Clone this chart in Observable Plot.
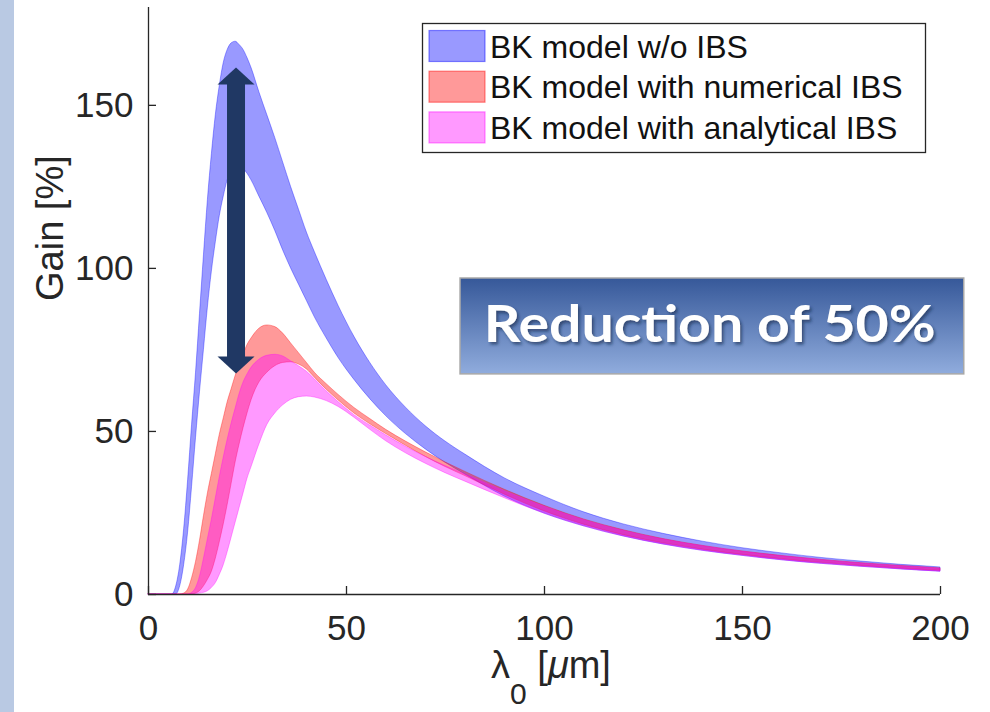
<!DOCTYPE html>
<html><head><meta charset="utf-8">
<script src="https://cdn.jsdelivr.net/npm/d3@7"></script>
<script src="https://cdn.jsdelivr.net/npm/@observablehq/plot@0.6"></script>
<style>
html,body{margin:0;padding:0;background:#fff;}
#wrap{position:relative;width:990px;height:712px;overflow:hidden;background:#fff;}
#strip{position:absolute;left:0;top:0;width:14px;height:712px;background:#b9c9e3;}
#chart{position:absolute;left:0;top:0;}
</style></head><body>
<div id="wrap"><div id="strip"></div><div id="chart"></div></div>
<script>
// wavelength grid (µm)
const lambda = [0,6,7,8,9,10,11,12,13,14,15,16,17,18,19,20,21,22,23,24,25,26,28,30,32,34,36,38,40,42,45,48,52,56,60,65,70,75,80,90,100,110,120,130,140,150,160,170,180,190,200];
// BK model w/o IBS
const blueUpper = [0,0,2.5,9,20,35,52,68,86,104,121,135,147,156,163,167,169,169.5,168.5,167,164.5,161.5,154,147,140,132.5,125,118,111,105,
  96.5,88.5,79,71,64.2,57.3,51.6,46.9,42.9,35.6,30,25.2,21.5,18.6,16.2,14.2,12.6,11.2,10.1,9.1,8.3];
const blueLower = [0,0,0,2.5,9,19,33,48,62,75,88,99,108,116,122,127,130,131.5,131.5,130.5,129,127,122,117,111.5,105.5,100,95,90,85,
  78.5,72.5,65.8,59.9,54.7,49.2,44.5,40.4,36.8,30,24.8,20.9,17.8,15.35,13.4,11.85,10.5,9.4,8.5,7.7,7.0];
// BK model with numerical IBS
const redUpper = [0,0,0,0,0.3,1.5,5,10,16.5,24,31,37,43,49,54,59,63,67,70.5,73.5,76.5,78.5,81.5,82.5,82,80,77,74,71,68,
  64.5,61.2,57.2,53.8,50.5,46.9,43.6,40.5,37.6,32.1,27.2,23,19.7,17,14.9,13.2,11.8,10.6,9.6,8.75,8];
const redLower = [0,0,0,0,0,0,0,0.3,1,2.5,4.5,7,11,16,21.5,27.5,34,40.5,46,51,55.5,59.5,65,68,70,71,71.2,70.5,69,66.5,
  62.8,59.5,55.5,52.2,49.2,45.6,42.2,39.1,36.3,30.6,25.5,21.4,18.2,15.7,13.75,12.15,10.8,9.7,8.75,7.95,7.25];
// BK model with analytical IBS
const magUpper = [0,0,0,0,0,0,0.5,2,5.5,11,17,23,29.5,36,42,47.5,52.5,57,61.5,65,67.5,69.5,72,73.2,73.5,73,71.5,70,68.3,66,
  62.3,59,55,51.8,48.8,45.3,42.2,39.4,36.8,31.6,26.9,22.8,19.5,16.85,14.8,13.1,11.7,10.5,9.5,8.65,7.9];
const magLower = [0,0,0,0,0,0,0,0,0.3,0.5,1,2,3.5,6,9,13,17.5,22,26.5,31,35.5,39,46,52,55.5,58,59.7,60.5,60.7,60.4,
  59.3,57.5,54.2,50.5,47,43.3,40.1,37.2,34.6,29.5,24.8,20.9,17.8,15.35,13.4,11.85,10.5,9.4,8.5,7.7,7.0];

const seriesNames = ["BK model w/o IBS","BK model with numerical IBS","BK model with analytical IBS"];
const seriesColors = ["#0000ff","#ff0000","#ff00ff"];
const xTicks = [0,50,100,150,200];
const yTicks = [0,50,100,150];
// annotations (data coordinates)
const arrowNote = [{x:22.1, top:161.6, bottom:67.8}];
const boxNote = [{x1:78.8, x2:206, y1:67.5, y2:96.9, cx:141.7, cy:82.3, label:"Reduction of 50%"}];

const W = 990, H = 712, mL = 148, mR = 50, mT = 7, mB = 118;
const innerW = W - mL - mR, innerH = H - mT - mB;
const ink = "#262626", navy = "#203864";
const font = "'Liberation Sans', Arial, Helvetica, sans-serif";

const bandData = [[blueLower, blueUpper],[redLower, redUpper],[magLower, magUpper]];
const bandMarks = bandData.map(([lo, hi], k) =>
  Plot.areaY(lambda.map((x,i)=>({x, lo:lo[i], hi:hi[i]})), {
    x:"x", y1:"lo", y2:"hi", curve:"monotone-x",
    fill:seriesColors[k], fillOpacity:0.4,
    stroke:seriesColors[k], strokeOpacity:0.35, strokeWidth:1
  }));

const headUp = {draw(c){c.moveTo(0,0);c.lineTo(18.5,17);c.lineTo(-18.5,17);c.closePath();}};
const headDown = {draw(c){c.moveTo(0,0);c.lineTo(18.5,-17);c.lineTo(-18.5,-17);c.closePath();}};

const svg = Plot.plot({
  width: W, height: H,
  marginLeft: mL, marginRight: mR, marginTop: mT, marginBottom: mB,
  style: {fontFamily: font, background: "transparent", overflow: "visible"},
  x: {domain: [0, 200]},
  y: {domain: [0, 180]},
  marks: [
    ...bandMarks,
    Plot.ruleX(arrowNote, {x:"x", y1:"top", y2:"bottom", stroke:navy, strokeWidth:18, insetTop:16, insetBottom:15}),
    Plot.dot(arrowNote, {x:"x", y:"top", symbol:headUp, fill:navy, stroke:"none"}),
    Plot.dot(arrowNote, {x:"x", y:"bottom", symbol:headDown, fill:navy, stroke:"none"}),
    Plot.rect(boxNote, {x1:"x1", x2:"x2", y1:"y1", y2:"y2", fill:"#123457", stroke:"#a8a8a8", strokeWidth:1.5}),
    Plot.text(boxNote, {x:"cx", y:"cy", text:"label", fontFamily:"Lato, 'Open Sans', sans-serif", fontWeight:"bold", fontSize:51, fill:"#ffffff", lineAnchor:"middle"}),
    Plot.ruleX([0], {stroke:ink, strokeWidth:1.3}),
    Plot.ruleY([0], {stroke:ink, strokeWidth:1.3}),
    Plot.tickX(xTicks, {x:d=>d, stroke:ink, strokeWidth:1.3, insetTop: innerH - 8}),
    Plot.tickY(yTicks, {y:d=>d, stroke:ink, strokeWidth:1.3, insetRight: innerW - 8}),
    Plot.axisX(xTicks, {tickSize:0, tickPadding:21, fontSize:35, color:ink, label:null}),
    Plot.axisY(yTicks, {tickSize:0, tickPadding:15, fontSize:35, color:ink, label:null}),
    Plot.text(["Gain [%]"], {frameAnchor:"left", rotate:-90, dx:-98, fontSize:38, fill:ink, lineAnchor:"middle", fontFamily:font})
  ]
});
document.getElementById("chart").appendChild(svg);

const s = d3.select(svg);
// gradient + shadow for annotation box
const defs = s.insert("defs", ":first-child");
const g = defs.append("linearGradient").attr("id","boxGrad").attr("x1",0).attr("y1",0).attr("x2",0).attr("y2",1);
g.append("stop").attr("offset","0%").attr("stop-color","#365899");
g.append("stop").attr("offset","100%").attr("stop-color","#90acdd");
const f = defs.append("filter").attr("id","txtShadow").attr("x","-10%").attr("y","-30%").attr("width","120%").attr("height","160%");
f.append("feDropShadow").attr("dx",2).attr("dy",2.5).attr("stdDeviation",1.5)
  .attr("flood-color","#16264a").attr("flood-opacity",0.6);
s.selectAll('[fill="#123457"]').attr("fill","url(#boxGrad)");
s.selectAll("text").filter(function(){return this.textContent === boxNote[0].label;})
  .attr("textLength", 452).attr("lengthAdjust","spacingAndGlyphs").attr("filter","url(#txtShadow)");

// x-axis title with subscript
const xl = s.append("text").attr("x", 551).attr("y", 678).attr("text-anchor","middle")
  .attr("font-size",38).attr("font-family",font).attr("fill",ink);
xl.append("tspan").text("λ");
xl.append("tspan").attr("dy",26).attr("font-size",30).text("0");
xl.append("tspan").attr("dy",-26).text(" [");
xl.append("tspan").attr("font-style","italic").text("μ");
xl.append("tspan").text("m]");

// legend
const lg = s.append("g").attr("text-anchor","start");
lg.append("rect").attr("x",422.5).attr("y",23.5).attr("width",503).attr("height",129)
  .attr("fill","#fff").attr("stroke",ink).attr("stroke-width",1.3);
seriesNames.forEach((name,i) => {
  const cy = 46 + i*40.7;
  lg.append("rect").attr("x",429).attr("y",cy-15.5).attr("width",56).attr("height",31)
    .attr("fill",seriesColors[i]).attr("fill-opacity",0.4)
    .attr("stroke",seriesColors[i]).attr("stroke-opacity",0.45).attr("stroke-width",1.2);
  lg.append("text").attr("x",490).attr("y",cy+11.5).attr("font-size",32).attr("text-anchor","start")
    .attr("font-family",font).attr("fill","#111").text(name);
});
</script></body></html>
